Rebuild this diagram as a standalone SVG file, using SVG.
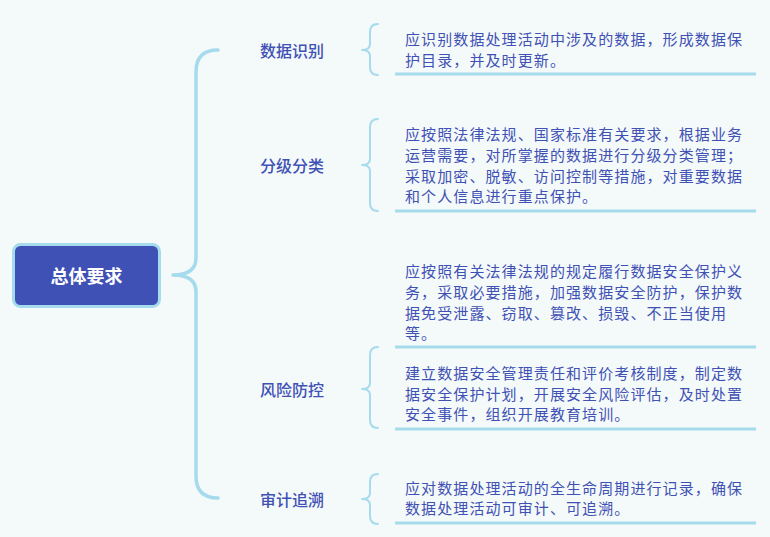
<svg xmlns="http://www.w3.org/2000/svg" width="770" height="537" viewBox="0 0 770 537">
<style>
.bg{fill:#f4f9f9}
.conn{fill:none;stroke:#a6dbee;stroke-linecap:round;stroke-linejoin:round}
.main{stroke-width:3.5}
.sub{stroke-width:2}
.uline{stroke:#a6dbee;stroke-width:3}
.lbl{font-family:"Noto Sans CJK SC","Noto Sans",sans-serif;font-size:16px;font-weight:500;fill:#3f51b5;dominant-baseline:central}
.txt{font-family:"Noto Sans CJK SC","Noto Sans",sans-serif;font-size:15px;letter-spacing:1.1px;fill:#3f51b5;dominant-baseline:central}
.root{font-family:"Noto Sans CJK SC","Noto Sans",sans-serif;font-size:18px;font-weight:bold;fill:#ffffff;text-anchor:middle;dominant-baseline:central}
</style>
<rect class="bg" x="0" y="0" width="770" height="537"/>
<g id="connectors">
<path class="conn main" d="M173,275 C188,275 196,270 196,258 L196,72 Q196,50 218,50 M173,275 C188,275 196,280 196,292 L196,476 Q196,498 218,498"/>
<path class="conn sub" d="M378,24 Q370,24 370,32 L370,44 Q370,50 362,50 Q370,50 370,56 L370,67 Q370,75 378,75"/>
<path class="conn sub" d="M378,119 Q370,119 370,127 L370,159 Q370,165 362,165 Q370,165 370,171 L370,203 Q370,211 378,211"/>
<path class="conn sub" d="M378,347 Q370,347 370,355 L370,383 Q370,389 362,389 Q370,389 370,395 L370,420 Q370,428 378,428"/>
<path class="conn sub" d="M378,474 Q370,474 370,482 L370,493 Q370,499 362,499 Q370,499 370,505 L370,516 Q370,524 378,524"/>
</g>
<g id="root">
<rect x="13.5" y="244.5" width="146" height="62" rx="7" fill="#3f51b5" stroke="#a6dbee" stroke-width="3"/>
<text class="root" x="86.5" y="275">总体要求</text>
</g>
<g id="n-shujushibie"><text class="lbl" x="260" y="50">数据识别</text></g>
<g id="n-fenjifenlei"><text class="lbl" x="260" y="165">分级分类</text></g>
<g id="n-fengxianfangkong"><text class="lbl" x="260" y="389">风险防控</text></g>
<g id="n-shenjizhuisu"><text class="lbl" x="260" y="499">审计追溯</text></g>
<g id="t1">
<text class="txt" x="405" y="38">应识别数据处理活动中涉及的数据，形成数据保</text>
<text class="txt" x="405" y="59">护目录，并及时更新。</text>
<line class="uline" x1="395" y1="74" x2="756" y2="74"/>
</g>
<g id="t2">
<text class="txt" x="405" y="133">应按照法律法规、国家标准有关要求，根据业务</text>
<text class="txt" x="405" y="154">运营需要，对所掌握的数据进行分级分类管理；</text>
<text class="txt" x="405" y="175">采取加密、脱敏、访问控制等措施，对重要数据</text>
<text class="txt" x="405" y="195">和个人信息进行重点保护。</text>
<line class="uline" x1="395" y1="211" x2="756" y2="211"/>
</g>
<g id="t3">
<text class="txt" x="405" y="270">应按照有关法律法规的规定履行数据安全保护义</text>
<text class="txt" x="405" y="291">务，采取必要措施，加强数据安全防护，保护数</text>
<text class="txt" x="405" y="312">据免受泄露、窃取、篡改、损毁、不正当使用</text>
<text class="txt" x="405" y="332">等。</text>
<line class="uline" x1="395" y1="347" x2="756" y2="347"/>
</g>
<g id="t4">
<text class="txt" x="405" y="372">建立数据安全管理责任和评价考核制度，制定数</text>
<text class="txt" x="405" y="393">据安全保护计划，开展安全风险评估，及时处置</text>
<text class="txt" x="405" y="413">安全事件，组织开展教育培训。</text>
<line class="uline" x1="395" y1="429" x2="756" y2="429"/>
</g>
<g id="t5">
<text class="txt" x="405" y="487">应对数据处理活动的全生命周期进行记录，确保</text>
<text class="txt" x="405" y="507">数据处理活动可审计、可追溯。</text>
<line class="uline" x1="395" y1="523" x2="756" y2="523"/>
</g>
</svg>
